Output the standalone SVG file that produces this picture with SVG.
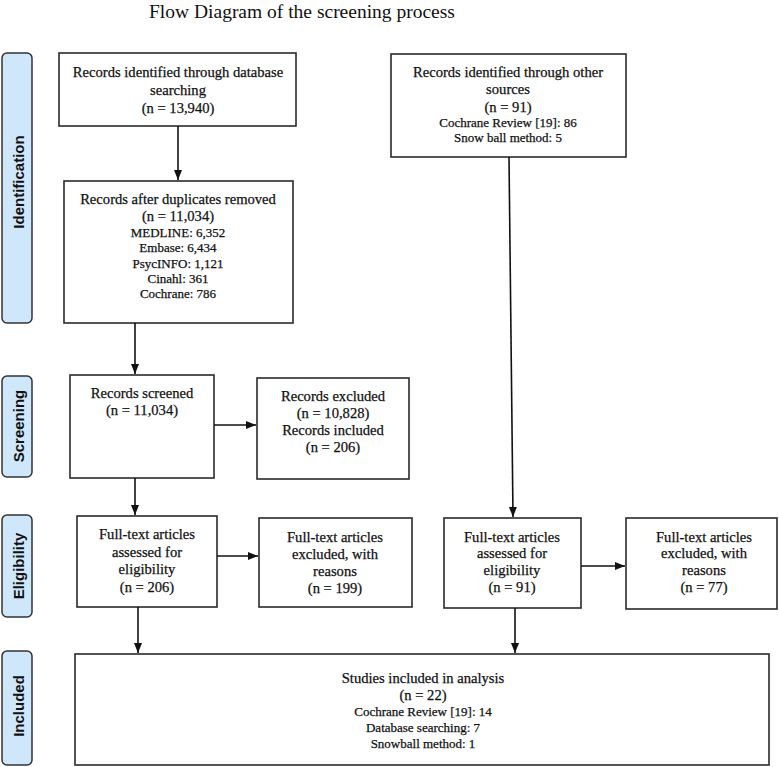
<svg xmlns="http://www.w3.org/2000/svg" width="779" height="767" viewBox="0 0 779 767">
<style>
.box{fill:#fff;stroke:#2a2a2a;stroke-width:1.6}
.side{fill:#cfe7fb;stroke:#333;stroke-width:1.5}
.bodytxt{font-family:"Liberation Serif","Times New Roman",serif;font-size:14.6px;fill:#111;stroke:#111;stroke-width:0.25;text-anchor:middle}
.smalltxt{font-family:"Liberation Serif","Times New Roman",serif;font-size:13px;fill:#111;stroke:#111;stroke-width:0.25;text-anchor:middle}
.lab{font-family:"Liberation Sans",Arial,sans-serif;font-size:15px;font-weight:bold;fill:#111;text-anchor:middle}
.title{font-family:"Liberation Serif","Times New Roman",serif;font-size:19.5px;fill:#111}
.c{stroke:#111;stroke-width:1.6;fill:none;marker-end:url(#ah)}
</style>
<defs>
<marker id="ah" markerUnits="userSpaceOnUse" markerWidth="10" markerHeight="10" viewBox="0 0 10 10" refX="10" refY="5" orient="auto">
<path d="M0,1 L10,5 L0,9 z" fill="#111"/>
</marker>
</defs>
<rect width="779" height="767" fill="#fff"/>
<text class="title" x="149" y="18">Flow Diagram of the screening process</text>

<g id="side-identification">
<rect class="side" x="2" y="53" width="30" height="270" rx="5"/>
<text class="lab" transform="translate(24,182) rotate(-90)">Identification</text>
</g>
<g id="side-screening">
<rect class="side" x="2" y="376" width="30" height="101" rx="5"/>
<text class="lab" transform="translate(24,426) rotate(-90)">Screening</text>
</g>
<g id="side-eligibility">
<rect class="side" x="2" y="515" width="30" height="102" rx="5"/>
<text class="lab" transform="translate(24,566) rotate(-90)">Eligibility</text>
</g>
<g id="side-included">
<rect class="side" x="2" y="651" width="30" height="114" rx="5"/>
<text class="lab" transform="translate(24,706) rotate(-90)">Included</text>
</g>

<g id="db-search" font-family="Liberation Serif, serif">
<rect class="box" x="59" y="53" width="237" height="73"/>
<text class="bodytxt" x="178" y="77">Records identified through database</text>
<text class="bodytxt" x="178" y="95">searching</text>
<text class="bodytxt" x="178" y="113">(n = 13,940)</text>
</g>
<g id="other-sources">
<rect class="box" x="391" y="54" width="235" height="103"/>
<text class="bodytxt" x="508" y="77">Records identified through other</text>
<text class="bodytxt" x="508" y="94">sources</text>
<text class="bodytxt" x="508" y="112">(n = 91)</text>
<text class="smalltxt" x="508" y="127">Cochrane Review [19]: 86</text>
<text class="smalltxt" x="508" y="142">Snow ball method: 5</text>
</g>
<g id="dedup">
<rect class="box" x="64" y="181" width="229" height="142"/>
<text class="bodytxt" x="178" y="204">Records after duplicates removed</text>
<text class="bodytxt" x="178" y="221">(n = 11,034)</text>
<text class="smalltxt" x="178" y="237">MEDLINE: 6,352</text>
<text class="smalltxt" x="178" y="252">Embase: 6,434</text>
<text class="smalltxt" x="178" y="268">PsycINFO: 1,121</text>
<text class="smalltxt" x="178" y="283">Cinahl: 361</text>
<text class="smalltxt" x="178" y="298">Cochrane: 786</text>
</g>
<g id="screened">
<rect class="box" x="70" y="375" width="144" height="103"/>
<text class="bodytxt" x="142" y="398">Records screened</text>
<text class="bodytxt" x="142" y="415">(n = 11,034)</text>
</g>
<g id="excluded">
<rect class="box" x="257" y="378" width="152" height="101"/>
<text class="bodytxt" x="333" y="401">Records excluded</text>
<text class="bodytxt" x="333" y="418">(n = 10,828)</text>
<text class="bodytxt" x="333" y="435">Records included</text>
<text class="bodytxt" x="333" y="452">(n = 206)</text>
</g>
<g id="fulltext-db">
<rect class="box" x="77" y="516" width="140" height="91"/>
<text class="bodytxt" x="147" y="539">Full-text articles</text>
<text class="bodytxt" x="147" y="557">assessed for</text>
<text class="bodytxt" x="147" y="574">eligibility</text>
<text class="bodytxt" x="147" y="592">(n = 206)</text>
</g>
<g id="fulltext-db-excluded">
<rect class="box" x="259" y="518" width="153" height="89"/>
<text class="bodytxt" x="335" y="542">Full-text articles</text>
<text class="bodytxt" x="335" y="559">excluded, with</text>
<text class="bodytxt" x="335" y="576">reasons</text>
<text class="bodytxt" x="335" y="593">(n = 199)</text>
</g>
<g id="fulltext-other">
<rect class="box" x="444" y="518" width="137" height="90"/>
<text class="bodytxt" x="512" y="542">Full-text articles</text>
<text class="bodytxt" x="512" y="558">assessed for</text>
<text class="bodytxt" x="512" y="575">eligibility</text>
<text class="bodytxt" x="512" y="592">(n = 91)</text>
</g>
<g id="fulltext-other-excluded">
<rect class="box" x="626" y="518" width="151" height="91"/>
<text class="bodytxt" x="704" y="542">Full-text articles</text>
<text class="bodytxt" x="704" y="558">excluded, with</text>
<text class="bodytxt" x="704" y="575">reasons</text>
<text class="bodytxt" x="704" y="592">(n = 77)</text>
</g>
<g id="included">
<rect class="box" x="75" y="654" width="694" height="111"/>
<text class="bodytxt" x="423" y="683">Studies included in analysis</text>
<text class="bodytxt" x="423" y="700">(n = 22)</text>
<text class="smalltxt" x="423" y="716">Cochrane Review [19]: 14</text>
<text class="smalltxt" x="423" y="732">Database searching: 7</text>
<text class="smalltxt" x="423" y="748">Snowball method: 1</text>
</g>

<g id="connectors">
<line class="c" x1="178" y1="126" x2="178" y2="180"/>
<line class="c" x1="135" y1="323" x2="135" y2="374"/>
<line class="c" x1="214" y1="425" x2="256" y2="425"/>
<line class="c" x1="135" y1="478" x2="135" y2="515"/>
<line class="c" x1="217" y1="556" x2="258" y2="556"/>
<line class="c" x1="138" y1="607" x2="138" y2="653"/>
<line class="c" x1="509" y1="157" x2="513" y2="517"/>
<line class="c" x1="581" y1="566" x2="625" y2="566"/>
<line class="c" x1="515" y1="608" x2="515" y2="653"/>
</g>
</svg>
